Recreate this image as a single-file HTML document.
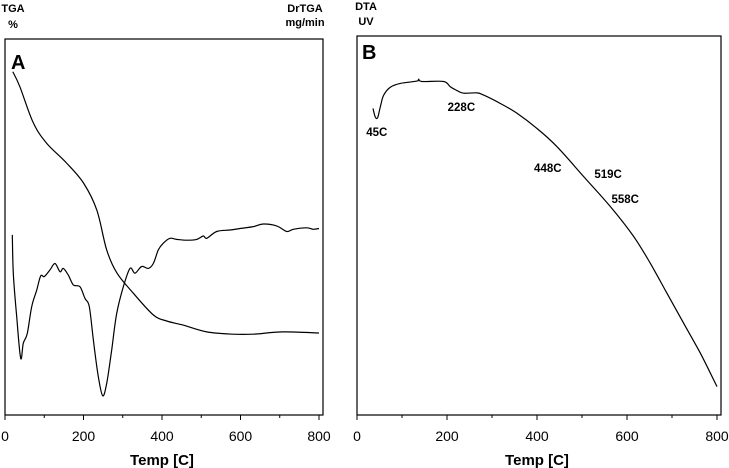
<!DOCTYPE html>
<html><head><meta charset="utf-8"><style>
html,body{margin:0;padding:0;background:#fff;}
svg{display:block;font-family:"Liberation Sans",Arial,sans-serif;}
</style></head><body>
<svg id="chart" width="729" height="468" viewBox="0 0 729 468" xmlns="http://www.w3.org/2000/svg">
<g id="pa"></g>
<g id="pb"></g>
</svg>
<script>
const xTicks=[0,200,400,600,800];
const minorTicks=[100,300,500,700];
const tgaT=[20,38,72,106,157,200,234,259,285,327,378,412,454,514,581,632,708,800];
const tgaV=[91.3,87.3,77.7,72.3,67,61.7,54.5,43.9,37.8,32.4,26.6,25,23.9,22.1,21.5,21.5,22.1,21.8];
const drT=[18.7,21.2,29.7,39.9,46.7,56.9,67.9,80.7,90.9,100.2,114.6,127.4,140.1,148.6,161.4,174.1,191.1,203.8,214.9,225.1,237.8,248.8,259,271.8,284.5,301.5,318.5,331.2,348.2,365.2,377.9,390.7,403.4,420.4,437.4,462.8,488.3,505.3,513.8,539.3,573.2,598.7,632.7,658.1,692.1,717.6,734.6,768.5,785.4,799.9];
const drV=[47.9,37.7,26.2,15.1,19.1,21.7,28.8,33.2,37,36.8,38.6,40.3,38.1,39,37.2,34.6,34.1,31,28.8,19.9,10.2,5.1,8.4,17.3,27,34.1,39,37.7,39.5,39,40.3,43.9,45.7,47,46.7,46.5,46.7,47.6,47,48.8,49.2,49.6,50.1,50.8,50.3,48.8,49.4,49.8,49.4,49.6];
const dtaT=[35.6,40.7,45.9,51.9,59.3,74.1,96.3,133.3,137,144.4,192.6,207.4,222.2,237,266.7,281.5,318.5,355.6,400,444.4,503.7,563,614.8,651.9,688.9,725.9,763,800];
const dtaV=[80.9,78.6,78.5,81.4,84.4,86.5,87.5,88.1,88.6,88,88,86.6,85.6,84.9,85,84.4,82.2,79.6,75.6,70.8,62.9,55,47.1,40,32.1,24.2,16.3,7.5];
const peakLabels=["45C","228C","448C","519C","558C"];
const peakT=[44,232,424,558,596];
const peakV=[73.6,80.2,64.1,62.5,55.9];
const NS="http://www.w3.org/2000/svg";
function mk(p,t,a,txt){const e=document.createElementNS(NS,t);for(const k in a)e.setAttribute(k,a[k]);if(txt!==undefined)e.textContent=txt;p.appendChild(e);return e;}
function panel(g,L,R,T,B,x0,x800){
  const sx=v=>x0+(x800-x0)*v/800, sy=v=>B-(B-T)*v/100;
  const f=mk(g,'rect',{x:L,y:T,width:R-L,height:B-T,fill:'none',stroke:'#000','stroke-width':1.2});
  
  xTicks.forEach(v=>{const l=mk(g,'line',{x1:sx(v),x2:sx(v),y1:B,y2:B+5,stroke:'#000'});
    
    const t=mk(g,'text',{x:sx(v),y:441,'font-size':14,'text-anchor':'middle'},String(v));
    });
  minorTicks.forEach(v=>{const l=mk(g,'line',{x1:sx(v),x2:sx(v),y1:B,y2:B+3,stroke:'#000'});
    });
  const tt=mk(g,'text',{x:(x0+x800)/2,y:465,'font-size':15,'font-weight':'bold','text-anchor':'middle'},'Temp [C]');
  
  return {sx,sy};
}
function line(g,ax,T,V,name){
  const P=T.map((t,i)=>[ax.sx(t),ax.sy(V[i])]);
  let d='M'+P[0][0].toFixed(1)+','+P[0][1].toFixed(1);
  for(let i=0;i<P.length-1;i++){
    const p0=P[Math.max(i-1,0)],p1=P[i],p2=P[i+1],p3=P[Math.min(i+2,P.length-1)];
    const c1=[p1[0]+(p2[0]-p0[0])/6,p1[1]+(p2[1]-p0[1])/6],c2=[p2[0]-(p3[0]-p1[0])/6,p2[1]-(p3[1]-p1[1])/6];
    d+='C'+c1[0].toFixed(1)+','+c1[1].toFixed(1)+' '+c2[0].toFixed(1)+','+c2[1].toFixed(1)+' '+p2[0].toFixed(1)+','+p2[1].toFixed(1);
  }
  const p=mk(g,'path',{d,fill:'none',stroke:'#000','stroke-width':1.2,'stroke-linejoin':'round'});
  }
const ga=document.getElementById('pa'), gb=document.getElementById('pb');
const axA=panel(ga,5,323,39,415,5,319);
line(ga,axA,tgaT,tgaV,'tga-line');
line(ga,axA,drT,drV,'drtga-line');
const axB=panel(gb,357,721,36,415,357,717);
line(gb,axB,dtaT,dtaV,'dta-line');
peakLabels.forEach((s,i)=>{const t=mk(gb,'text',{x:axB.sx(peakT[i]),y:axB.sy(peakV[i]),'font-size':11.5,'font-weight':'bold','text-anchor':'middle'},s);
  });
const labels=[[13,12,'TGA'],[13,28,'%'],[305,12,'DrTGA'],[305,26,'mg/min'],[366,10,'DTA'],[366,25,'UV']];
labels.forEach(l=>{const t=mk(document.getElementById('chart'),'text',{x:l[0],y:l[1],'font-size':11,'font-weight':'bold','text-anchor':'middle'},l[2]);
  });
const a=mk(ga,'text',{x:11,y:69,'font-size':20,'font-weight':'bold'},'A');
const b=mk(gb,'text',{x:362,y:59,'font-size':20,'font-weight':'bold'},'B');
</script>
</body></html>
